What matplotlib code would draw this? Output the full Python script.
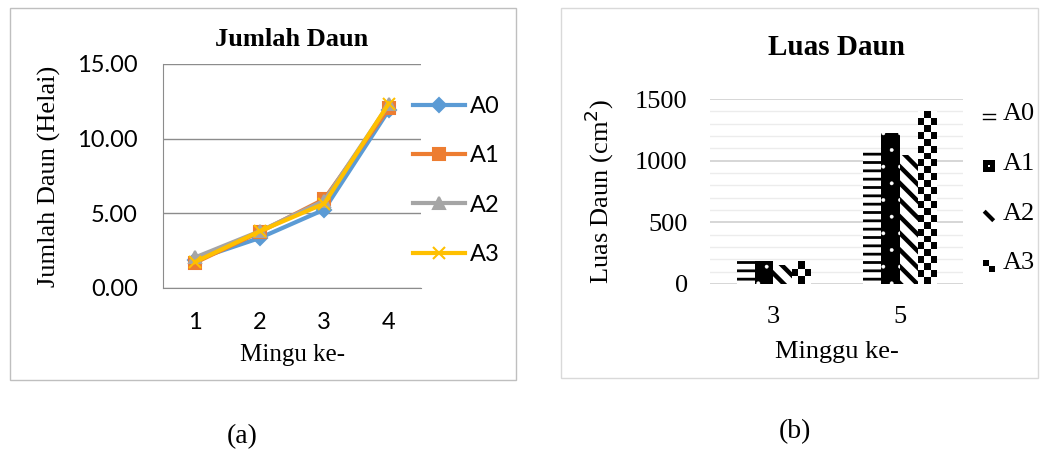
import numpy as np
import matplotlib
matplotlib.use("Agg")
import matplotlib.pyplot as plt
from matplotlib.patches import Rectangle, Patch
from matplotlib.lines import Line2D
from matplotlib.legend_handler import HandlerBase

# data (a) jumlah daun
minggu_a = ["1", "2", "3", "4"]
jumlah_A0 = [1.9, 3.35, 5.25, 11.9]
jumlah_A1 = [1.7, 3.75, 5.95, 12.05]
jumlah_A2 = [2.05, 3.8, 5.85, 12.3]
jumlah_A3 = [1.75, 3.8, 5.65, 12.35]

# data (b) luas daun
minggu_b = ["3", "5"]
luas_A0 = [195, 1080]
luas_A1 = [190, 1225]
luas_A2 = [155, 1050]
luas_A3 = [180, 1400]

series = ["A0", "A1", "A2", "A3"]

serif = "Liberation Serif"
sans = "Lato"


def hatch_lw(bars, lw):
    # hatch line width per bar (if the matplotlib version allows it)
    for p in bars:
        try:
            p.set_hatch_linewidth(lw)
        except AttributeError:
            pass


fig = plt.figure(figsize=(10.4, 4.54), dpi=100)

# panel frames
fig.patches.append(Rectangle((10 / 1040, 1 - 380 / 454), 506 / 1040, 372 / 454,
                             transform=fig.transFigure, fill=False, ec="#bfbfbf", lw=1))
fig.patches.append(Rectangle((561 / 1040, 1 - 378 / 454), 477 / 1040, 370 / 454,
                             transform=fig.transFigure, fill=False, ec="#d9d9d9", lw=1))

# ---------- (a) ----------
ax1 = fig.add_axes([163 / 1040, 1 - 288 / 454, 258 / 1040, 224 / 454])
x = np.arange(1, 5)
cols = ["#5B9BD5", "#ED7D31", "#A5A5A5", "#FFC000"]
marks = ["D", "s", "^", "x"]
sizes = [7, 9, 8, 9]
for yv, c, m, s, lab in zip([jumlah_A0, jumlah_A1, jumlah_A2, jumlah_A3], cols, marks, sizes, series):
    ax1.plot(x, yv, color=c, marker=m, ms=s, lw=3, label=lab, mew=1.5)
ax1.set_xlim(0.5, 4.5)
ax1.set_ylim(0, 15)
ax1.set_yticks([0, 5, 10, 15])
ax1.set_yticklabels(["0.00", "5.00", "10.00", "15.00"], fontfamily=sans, fontsize=17)
ax1.set_xticks(x)
ax1.set_xticklabels(minggu_a, fontfamily=sans, fontsize=17)
ax1.tick_params(axis="y", length=0, pad=18)
ax1.tick_params(axis="x", length=0, pad=17)
ax1.grid(axis="y", color="#8c8c8c", lw=1)
for sp in ["top", "right"]:
    ax1.spines[sp].set_visible(False)
for sp in ["left", "bottom"]:
    ax1.spines[sp].set_color("#8c8c8c")
ax1.set_axisbelow(True)
ax1.set_title("Jumlah Daun", fontfamily=serif, fontweight="bold", fontsize=19, pad=13)
ax1.set_ylabel("Jumlah Daun (Helai)", fontfamily=serif, fontsize=19, labelpad=12)
ax1.set_xlabel("Mingu ke-", fontfamily=serif, fontsize=18, labelpad=8)
ax1.legend(loc="center left", bbox_to_anchor=(250 / 258, 0.48), frameon=False,
           prop={"family": sans, "size": 17}, handlelength=2.2,
           labelspacing=1.2, handletextpad=0.2, borderpad=0, borderaxespad=0)

# ---------- (b) ----------
ax2 = fig.add_axes([710 / 1040, 1 - 284 / 454, 253 / 1040, 185 / 454])
xb = np.arange(len(minggu_b))
w = 0.145
with plt.rc_context({"hatch.linewidth": 2.0}):
    b0 = ax2.bar(xb - 1.5 * w, luas_A0, w, color="white", edgecolor="black", lw=0, hatch="--")
with plt.rc_context({"hatch.linewidth": 0.3}):
    b1 = ax2.bar(xb - 0.5 * w, luas_A1, w, color="black", edgecolor="white", lw=0, hatch=".")
with plt.rc_context({"hatch.linewidth": 3.2}):
    b2 = ax2.bar(xb + 0.5 * w, luas_A2, w, color="white", edgecolor="black", lw=0, hatch="\\\\")
b3 = ax2.bar(xb + 1.5 * w, luas_A3, w, color="white", lw=0)
hatch_lw(b0, 2.0)
hatch_lw(b1, 0.3)
hatch_lw(b2, 3.2)
# checkerboard fill for A3
for p in b3.patches:
    h = p.get_height()
    nrow = max(2, int(round(h / 55)))
    board = 1 - (np.add.outer(np.arange(nrow), np.arange(3)) % 2)
    ax2.imshow(board, cmap="gray", vmin=0, vmax=1,
               extent=[p.get_x(), p.get_x() + p.get_width(), 0, h],
               aspect="auto", interpolation="nearest", clip_path=p, zorder=2)
ax2.set_xlim(-0.5, 1.5)
ax2.set_ylim(0, 1500)
ax2.set_yticks([0, 500, 1000, 1500])
ax2.set_yticks(np.arange(0, 1501, 100), minor=True)
ax2.set_yticklabels(["0", "500", "1000", "1500"], fontfamily=serif, fontsize=19)
ax2.set_xticks(xb)
ax2.set_xticklabels(minggu_b, fontfamily=serif, fontsize=19)
ax2.tick_params(axis="y", length=0, pad=16, which="both")
ax2.tick_params(axis="x", length=0, pad=16, which="both")
ax2.grid(axis="y", which="major", color="#d0d0d0", lw=1.2)
ax2.grid(axis="y", which="minor", color="#ececec", lw=1)
for sp in ax2.spines.values():
    sp.set_visible(False)
ax2.set_axisbelow(True)
ax2.set_title("Luas Daun", fontfamily=serif, fontweight="bold", fontsize=21, pad=32)
ax2.set_ylabel("Luas Daun (cm$^2$)", fontfamily=serif, fontsize=19, labelpad=14)
ax2.set_xlabel("Minggu ke-", fontfamily=serif, fontsize=19, labelpad=9)


# small legend icons like the original patterns
class IconHandler(HandlerBase):
    def __init__(self, kind):
        super().__init__()
        self.kind = kind

    def create_artists(self, legend, orig, xd, yd, width, height, fontsize, trans):
        s = min(width, height)
        x0, y0 = xd, yd
        if self.kind == "lines":
            return [Line2D([x0, x0 + s], [y0 + 0.3 * s] * 2, color="black", lw=1, transform=trans),
                    Line2D([x0, x0 + s], [y0 + 0.75 * s] * 2, color="black", lw=1, transform=trans)]
        if self.kind == "dot":
            d = 0.2 * s
            return [Rectangle((x0, y0), s, s, fc="black", lw=0, transform=trans),
                    Rectangle((x0 + 0.5 * s - d / 2, y0 + 0.5 * s - d / 2), d, d,
                              fc="white", lw=0, transform=trans)]
        if self.kind == "diag":
            return [Line2D([x0 + 0.1 * s, x0 + 0.9 * s], [y0 + 0.9 * s, y0 + 0.1 * s],
                           color="black", lw=3, solid_capstyle="butt", transform=trans)]
        h = s / 2
        return [Rectangle((x0, y0 + h), h, h, fc="black", lw=0, transform=trans),
                Rectangle((x0 + h, y0), h, h, fc="black", lw=0, transform=trans)]


handles = [Patch(), Patch(), Patch(), Patch()]
kinds = ["lines", "dot", "diag", "check"]
ax2.legend(handles, series, handler_map={hd: IconHandler(k) for hd, k in zip(handles, kinds)},
           loc="center left", bbox_to_anchor=(273 / 253, 0.515), frameon=False,
           prop={"family": serif, "size": 19}, handlelength=0.45, handleheight=0.45,
           labelspacing=1.05, handletextpad=0.3, borderpad=0, borderaxespad=0)

fig.text(242 / 1040, 1 - 437 / 454, "(a)", fontfamily=serif, fontsize=20, ha="center", va="center")
fig.text(795 / 1040, 1 - 432 / 454, "(b)", fontfamily=serif, fontsize=20, ha="center", va="center")

plt.savefig("out.png", dpi=100)
